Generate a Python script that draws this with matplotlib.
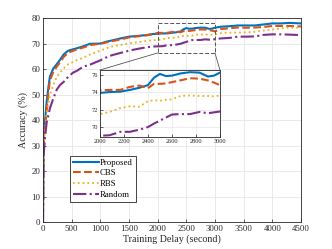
import matplotlib
matplotlib.use("Agg")
import matplotlib.pyplot as plt
from matplotlib.patches import Rectangle, ConnectionPatch

plt.rcParams['font.family'] = ['Liberation Serif', 'DejaVu Serif']

# ---------------------------------------------------------------
# data
# ---------------------------------------------------------------
delay = [0, 10, 35, 65, 95, 120, 180, 240, 300, 360, 440, 520, 600, 700, 820,
         1000, 1100, 1200, 1350, 1500, 1650, 1800, 1900, 2000, 2080, 2170, 2250,
         2330, 2400, 2450, 2500, 2550, 2600, 2670, 2750, 2830, 2900, 2950, 3000,
         3100, 3250, 3400, 3550, 3700, 3850, 4000, 4150, 4300, 4400, 4500]

proposed = [0, 34, 39.5, 47.5, 53, 57, 60.3, 62, 63.8, 65.8, 67.3, 67.8, 68.3, 69.0, 70.0,
            70.1, 70.8, 71.3, 72.1, 72.8, 73.1, 73.4, 73.8, 73.95, 74.05, 74.1, 74.3,
            74.55, 74.85, 75.7, 76.15, 75.9, 75.95, 76.2, 76.35, 76.3, 75.85, 75.95, 76.3,
            76.7, 76.9, 77.2, 77.2, 77.2, 77.6, 78.0, 78.0, 78.2, 78.1, 78.0]

cbs = [0, 31, 36, 44, 51, 55.5, 59, 61, 62.8, 64.8, 66.5, 67.2, 67.9, 68.5, 69.5,
       70.0, 70.5, 71.0, 71.7, 72.5, 72.9, 73.3, 73.7, 74.25, 74.3, 74.3, 74.65,
       74.8, 74.5, 75.0, 75.0, 75.05, 75.2, 75.4, 75.65, 75.6, 75.4, 75.15, 74.85,
       75.8, 76.1, 76.4, 76.3, 76.4, 76.6, 77.0, 77.0, 77.0, 76.9, 76.8]

rbs = [0, 29, 36, 43, 46.5, 49.8, 53.7, 57, 58.8, 60.3, 62, 62.8, 63.7, 64.5, 65.8,
       67.3, 68.2, 68.9, 69.5, 70.2, 70.6, 71.1, 71.4, 71.5, 71.75, 72.2, 72.4,
       72.35, 73.0, 73.1, 73.05, 73.15, 73.2, 73.6, 73.65, 73.6, 73.6, 73.55, 73.65,
       74.2, 74.4, 74.4, 74.5, 74.7, 75.2, 75.6, 76.0, 76.4, 76.3, 76.4]

rand = [0, 26, 33, 39.3, 42, 44.6, 48.5, 52, 53.9, 55, 57, 58.6, 59.5, 61, 61.8,
        63.5, 64.6, 65.5, 66.4, 67.3, 68, 68.6, 68.9, 69.0, 69.05, 69.45, 69.45,
        69.7, 70.0, 70.4, 70.75, 71.1, 71.45, 71.5, 71.5, 71.75, 71.6, 71.7, 71.8,
        72.1, 72.3, 72.8, 72.8, 72.9, 73.5, 73.7, 73.7, 73.6, 73.5, 73.4]

names = ['Proposed', 'CBS', 'RBS', 'Random']
series = [proposed, cbs, rbs, rand]
colors = ['#0072BD', '#D95319', '#EDB120', '#7E2F8E']
styles = ['-', '--', ':', '-.']
widths = [1.5, 1.5, 1.3, 1.5]

zoom_x = (2000, 3000)
zoom_box_y = (66.4, 78.2)

axis_col = '#262626'

fig = plt.figure(figsize=(3.32, 2.49), dpi=100)
ax = fig.add_axes([0.1295, 0.1084, 0.777, 0.818])

for y, n, c, s, w in zip(series, names, colors, styles, widths):
    ax.plot(delay, y, linestyle=s, color=c, lw=w, label=n)

ax.set_xlim(0, 4500)
ax.set_ylim(0, 80)
ax.set_xticks(range(0, 4501, 500))
ax.set_yticks(range(0, 81, 10))
ax.grid(True, color='#e6e6e6', lw=0.6)
ax.tick_params(direction='in', length=2.5, width=0.5, labelsize=6.3,
               colors=axis_col, pad=2)
for sp in ax.spines.values():
    sp.set_color(axis_col)
    sp.set_linewidth(0.6)
ax.set_xlabel('Training Delay (second)', fontsize=7.2, color=axis_col, labelpad=1)
ax.set_ylabel('Accuracy (%)', fontsize=7.2, color=axis_col, labelpad=2)

leg = ax.legend(loc='lower left', bbox_to_anchor=(0.105, 0.098), borderaxespad=0,
                fontsize=6.3, handlelength=2.9, handletextpad=0.15,
                labelspacing=0.3, borderpad=0.35, fancybox=False, framealpha=1)
leg.get_frame().set_edgecolor(axis_col)
leg.get_frame().set_linewidth(0.6)

# dashed box marking the zoomed region
ax.add_patch(Rectangle((zoom_x[0], zoom_box_y[0]), zoom_x[1] - zoom_x[0],
                       zoom_box_y[1] - zoom_box_y[0], fill=False,
                       ls=(0, (4, 2)), ec='#555555', lw=0.7, zorder=5))

# inset
ins = fig.add_axes([0.301, 0.4498, 0.3614, 0.269])
for y, c, s, w in zip(series, colors, styles, widths):
    ins.plot(delay, y, linestyle=s, color=c, lw=w)
ins.set_xlim(*zoom_x)
ins.set_ylim(68.85, 76.6)
ins.set_xticks(range(2000, 3001, 200))
ins.set_yticks([70, 72, 74, 76])
ins.grid(True, color='#e6e6e6', lw=0.5)
ins.tick_params(direction='in', length=2, width=0.5, labelsize=4.6,
                colors=axis_col, pad=1.5)
for sp in ins.spines.values():
    sp.set_color(axis_col)
    sp.set_linewidth(0.6)

for xa, xb in [(zoom_x[0], 0), (zoom_x[1], 1)]:
    con = ConnectionPatch(xyA=(xa, zoom_box_y[0]), coordsA=ax.transData,
                          xyB=(xb, 1), coordsB=ins.transAxes,
                          color='#555555', lw=0.6)
    fig.add_artist(con)

fig.savefig('out.png', dpi=100)
